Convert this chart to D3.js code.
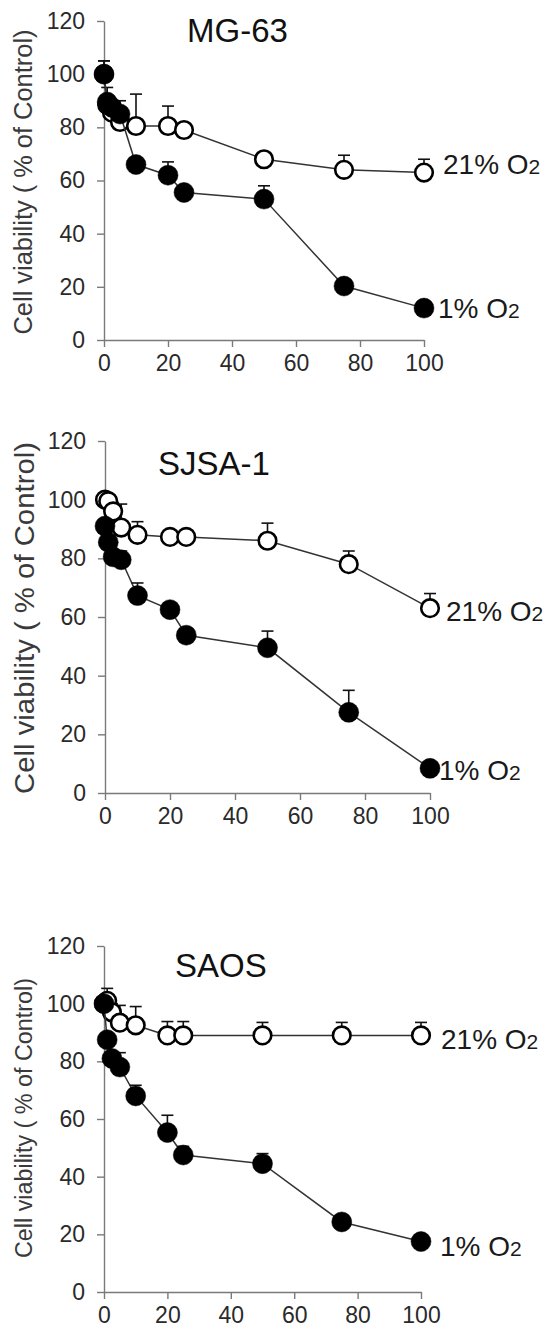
<!DOCTYPE html>
<html lang="en">
<head>
  <meta charset="UTF-8">
  <title>Cell viability</title>
  <style>
    body { margin: 0; background: #fff; }
    svg { display: block; font-family: 'Liberation Sans', Arial, sans-serif; }
  </style>
</head>
<body>
  <svg width="552" height="1331" class="svgs"></svg>
  <script src="https://cdn.jsdelivr.net/npm/d3@7/dist/d3.min.js"></script>
  <script>
    // doses (x) shared by all panels
    const doses = [0, 1, 2.5, 5, 10, 20, 25, 50, 75, 100]
    const xTicks = [0, 20, 40, 60, 80, 100]
    const yTicks = [0, 20, 40, 60, 80, 100, 120]
    const cellLines = ['MG-63', 'SJSA-1', 'SAOS']
    const seriesNames = ['21% O', '1% O']
    const yLabel = 'Cell viability ( % of Control)'

    // MG-63
    const mgNormoxia = [100, 88.5, 85.5, 82, 80.5, 80.5, 79, 68, 64, 63]
    const mgNormoxiaErr = [5, 6.5, 3, 8, 12, 7.5, 2, 2, 5.5, 5]
    const mgHypoxia = [100, 89.5, 87.5, 85, 66, 62, 55.5, 53, 20.3, 12]
    const mgHypoxiaErr = [5, 2, 2, 2, 1.5, 5, 1.5, 5, 1, 1]

    // SJSA-1
    const sjNormoxia = [100, 99.5, 96, 90.5, 88, 87.3, 87.3, 86, 78, 63]
    const sjNormoxiaErr = [1, 2, 3, 8, 4.5, 1, 1, 6, 4.5, 5]
    const sjHypoxia = [91, 85.5, 80.5, 79.5, 67.3, 62.5, 53.8, 49.5, 27.5, 8.4]
    const sjHypoxiaErr = [1, 1, 1, 3, 4.3, 1, 1, 5.7, 7.5, 1]

    // SAOS
    const saNormoxia = [100, 101, 97, 93.4, 92.5, 89, 89, 89, 89, 89]
    const saNormoxiaErr = [1, 4.3, 3, 6, 6.5, 4.8, 4.8, 4.5, 4.5, 4.5]
    const saHypoxia = [100, 87.5, 81, 78, 68, 55.3, 47.5, 44.5, 24.3, 17.5]
    const saHypoxiaErr = [1, 1, 1, 5, 3.7, 6, 3, 3.5, 1, 1]

    const normoxia = [mgNormoxia, sjNormoxia, saNormoxia]
    const normoxiaErr = [mgNormoxiaErr, sjNormoxiaErr, saNormoxiaErr]
    const hypoxia = [mgHypoxia, sjHypoxia, saHypoxia]
    const hypoxiaErr = [mgHypoxiaErr, sjHypoxiaErr, saHypoxiaErr]

    // layout of each pasted panel
    const layout = [
      { left: 104, right: 424, top: 21, bottom: 340, titleX: 187, titleY: 42,
        labelFont: 25.4, labelLen: 305, labelX: 32, labelMid: 182,
        leg: [[19, 1], [14, 10]] },
      { left: 105, right: 430, top: 441, bottom: 793, titleX: 158, titleY: 475,
        labelFont: 28, labelLen: 352, labelX: 34, labelMid: 618,
        leg: [[16, 13], [9, 12]] },
      { left: 104, right: 421, top: 946, bottom: 1292, titleX: 175, titleY: 977,
        labelFont: 23.3, labelLen: 280, labelX: 32, labelMid: 1118,
        leg: [[20, 14], [19, 14]] }
    ]

    const mainsvg = d3.select('.svgs')

    cellLines.forEach((name, i) => {
      const L = layout[i]
      const xScale = d3.scaleLinear().domain([0, 100]).range([L.left, L.right])
      const yScale = d3.scaleLinear().domain([0, 120]).range([L.bottom, L.top])
      const g = mainsvg.append('g')

      const yAxis = d3.axisLeft(yScale).tickValues(yTicks).tickSize(7).tickSizeOuter(0).tickPadding(12)
      const xAxis = d3.axisBottom(xScale).tickValues(xTicks).tickSize(7).tickSizeOuter(0).tickPadding(8)

      const ya = g.append('g').attr('transform', `translate(${L.left},0)`).call(yAxis)
      const xa = g.append('g').attr('transform', `translate(0,${L.bottom})`).call(xAxis)
      ;[ya, xa].forEach(a => {
        a.selectAll('path, line').attr('stroke', '#7a7a7a').attr('stroke-width', 1.4)
        a.selectAll('text').attr('font-size', 23).attr('fill', '#2a2a2a')
          .attr('font-family', "'Liberation Sans', Arial, sans-serif")
      })

      // y label
      g.append('text')
        .attr('transform', `translate(${L.labelX},${L.labelMid}) rotate(-90)`)
        .attr('text-anchor', 'middle')
        .attr('font-size', L.labelFont)
        .attr('fill', '#3a3a3a')
        .attr('textLength', L.labelLen)
        .attr('lengthAdjust', 'spacingAndGlyphs')
        .text(yLabel)

      // title
      g.append('text')
        .attr('x', L.titleX).attr('y', L.titleY)
        .attr('font-size', 33)
        .attr('fill', '#111')
        .text(name)

      const series = [
        { vals: normoxia[i], err: normoxiaErr[i], fill: '#fff' },
        { vals: hypoxia[i], err: hypoxiaErr[i], fill: '#000' }
      ]

      const line = d3.line().x(d => xScale(d[0])).y(d => yScale(d[1]))

      series.forEach((s, k) => {
        const pts = doses.map((d, j) => [d, s.vals[j], s.err[j]])
        g.append('path')
          .attr('d', line(pts))
          .attr('fill', 'none')
          .attr('stroke', '#333')
          .attr('stroke-width', 1.5)

        const eb = g.append('g')
        pts.forEach(p => {
          const x = xScale(p[0])
          const yt = yScale(p[1] + p[2])
          eb.append('line').attr('x1', x).attr('x2', x)
            .attr('y1', yScale(p[1])).attr('y2', yt)
            .attr('stroke', '#111').attr('stroke-width', 1.6)
          eb.append('line').attr('x1', x - 6).attr('x2', x + 6)
            .attr('y1', yt).attr('y2', yt)
            .attr('stroke', '#111').attr('stroke-width', 1.6)
        })

        g.append('g').selectAll('circle')
          .data(pts)
          .join('circle')
          .attr('cx', d => xScale(d[0]))
          .attr('cy', d => yScale(d[1]))
          .attr('r', k === 0 ? 8.8 : 10)
          .attr('fill', s.fill)
          .attr('stroke', '#000')
          .attr('stroke-width', k === 0 ? 2.6 : 0.5)

        // end label
        const last = pts[pts.length - 1]
        const t = g.append('text')
          .attr('x', xScale(last[0]) + L.leg[k][0])
          .attr('y', yScale(last[1]) + L.leg[k][1])
          .attr('font-size', 28)
          .attr('fill', '#1a1a1a')
        t.append('tspan').text(seriesNames[k])
        t.append('tspan').attr('font-size', 21).text('2')
      })
    })
  </script>
</body>
</html>
